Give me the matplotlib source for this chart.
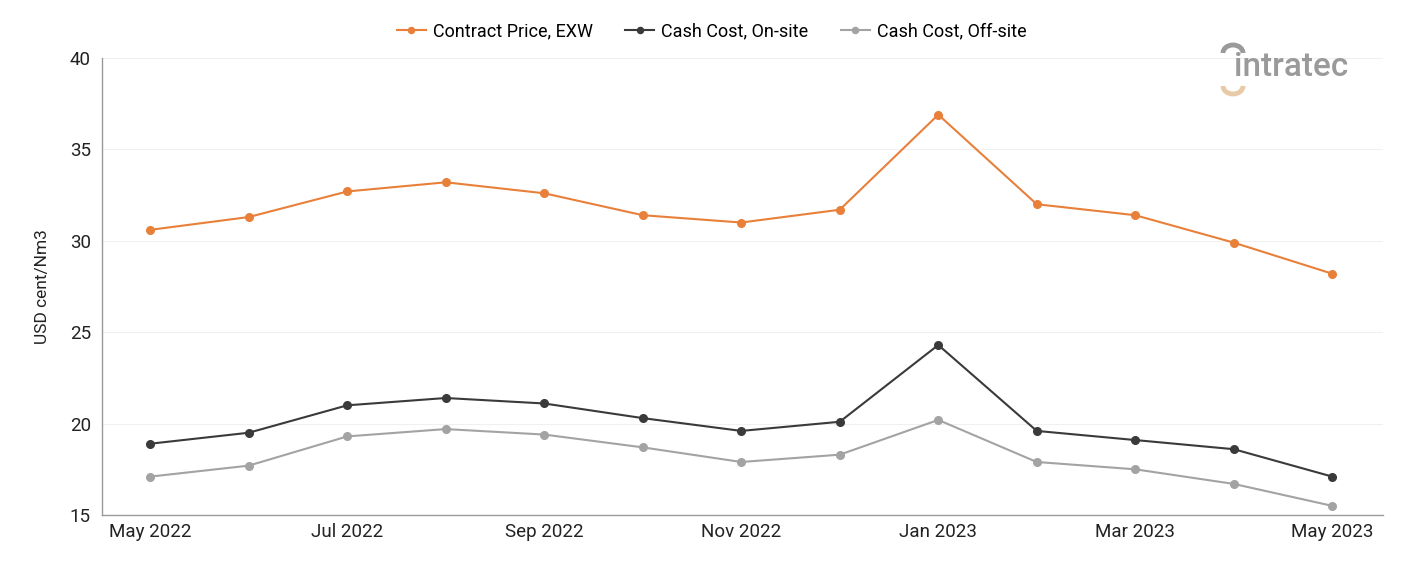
import matplotlib
matplotlib.use("Agg")
import matplotlib.pyplot as plt
from matplotlib.patches import Arc

plt.rcParams['font.family'] = ['Roboto', 'DejaVu Sans']

months = ["May 2022", "Jun 2022", "Jul 2022", "Aug 2022", "Sep 2022", "Oct 2022", "Nov 2022",
          "Dec 2022", "Jan 2023", "Feb 2023", "Mar 2023", "Apr 2023", "May 2023"]
contract_price = [30.6, 31.3, 32.7, 33.2, 32.6, 31.4, 31.0, 31.7, 36.9, 32.0, 31.4, 29.9, 28.2]
cash_onsite = [18.9, 19.5, 21.0, 21.4, 21.1, 20.3, 19.6, 20.1, 24.3, 19.6, 19.1, 18.6, 17.1]
cash_offsite = [17.1, 17.7, 19.3, 19.7, 19.4, 18.7, 17.9, 18.3, 20.2, 17.9, 17.5, 16.7, 15.5]

fig = plt.figure(figsize=(14.01, 5.61), dpi=100)
ax = fig.add_axes([0.0728, 0.082, 0.914, 0.8146])

x = list(range(len(months)))
ax.plot(x, contract_price, color="#e8803a", marker="o", markersize=5.5, linewidth=1.5, label="Contract Price, EXW")
ax.plot(x, cash_onsite, color="#3a3a3a", marker="o", markersize=5.5, linewidth=1.5, label="Cash Cost, On-site")
ax.plot(x, cash_offsite, color="#a3a3a3", marker="o", markersize=5.5, linewidth=1.5, label="Cash Cost, Off-site")

ax.set_ylim(15, 40)
ax.set_yticks([15, 20, 25, 30, 35, 40])
ax.set_xlim(-0.49, 12.51)
ax.set_xticks(x[::2])
ax.set_xticklabels(months[::2])
ax.tick_params(length=0, labelsize=13.5, colors="#222222", pad=6)
ax.tick_params(axis="y", pad=8)
ax.grid(axis="y", color="#f0f0f0", linewidth=0.8)
ax.set_axisbelow(True)
for s in ["top", "right"]:
    ax.spines[s].set_visible(False)
for s in ["left", "bottom"]:
    ax.spines[s].set_color("#999999")
    ax.spines[s].set_linewidth(1)
ax.set_ylabel("USD cent/Nm3", fontsize=12.5, color="#222222", labelpad=14)

fig.legend(loc="upper center", bbox_to_anchor=(0.508, 0.99), ncol=3, frameon=False,
           fontsize=13, handlelength=1.6, handletextpad=0.4, columnspacing=1.8, markerscale=0.8)

# logo
lx = 1234
fig.text(lx / 1401, 1 - 67 / 561, "intratec", fontsize=24, color="#9a9a9a", fontweight="medium", va="center", ha="left")
fig.patches.append(Arc((lx - 1, 561 - 53), 20, 16, theta1=0, theta2=180,
                       transform=None, color="#9a9a9a", linewidth=3.5))
fig.patches.append(Arc((lx - 1, 561 - 86), 20, 16, theta1=180, theta2=360,
                       transform=None, color="#e8c9a8", linewidth=3.5))

fig.savefig("out.png", dpi=100)
